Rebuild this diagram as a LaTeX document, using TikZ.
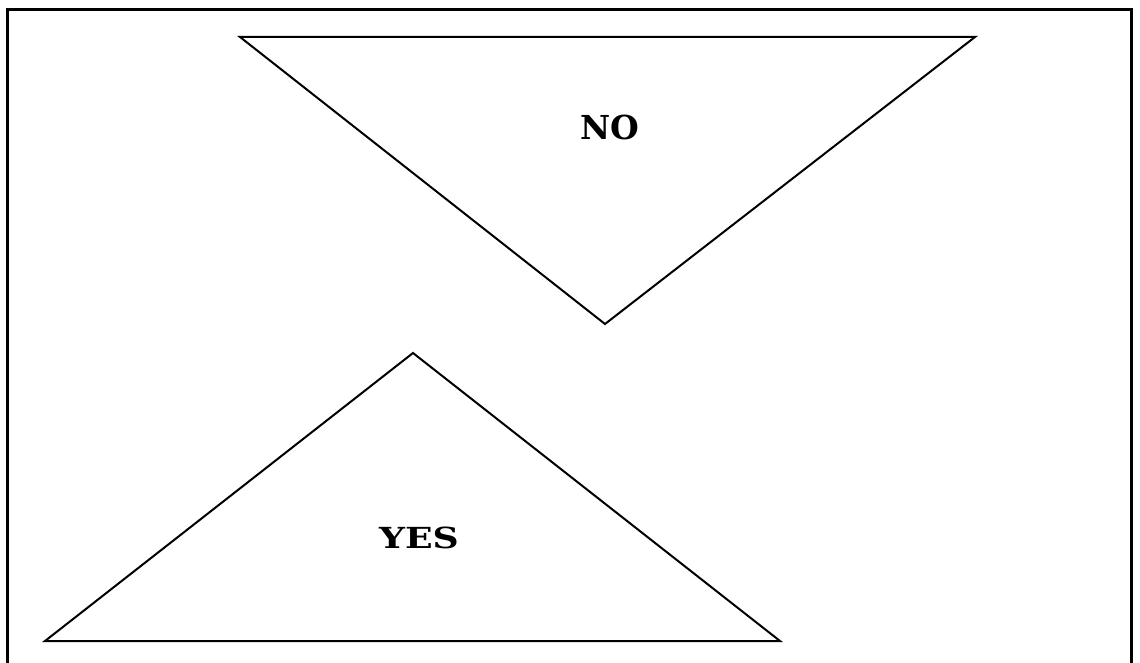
\documentclass[tikz,border=0pt]{standalone}
\usepackage{fontspec}
\setmainfont{DejaVu Serif}
\tikzset{
  tri/.style={draw=black, line width=2pt, line join=miter},
  frame/.style={draw=black, line width=3pt},
  lbl/.style={font=\fontsize{33}{36}\selectfont\bfseries, inner sep=0pt}
}
\begin{document}
\begin{tikzpicture}[x=1pt,y=-1pt]
\useasboundingbox (0,0) rectangle (1140,663);
\fill[white] (0,0) rectangle (1140,663);
\draw[frame] (7,670) -- (7,10) -- (1131,10) -- (1131,670);
\draw[tri] (240,37) -- (975,37) -- (605,324) -- cycle;
\draw[tri] (413,353) -- (780,641) -- (45,641) -- cycle;
\node[lbl] (no) at (610,127) {NO};
\node[lbl, font=\fontsize{29}{32}\selectfont\bfseries, xscale=1.25] (yes) at (419,538) {YES};
\end{tikzpicture}
\end{document}
